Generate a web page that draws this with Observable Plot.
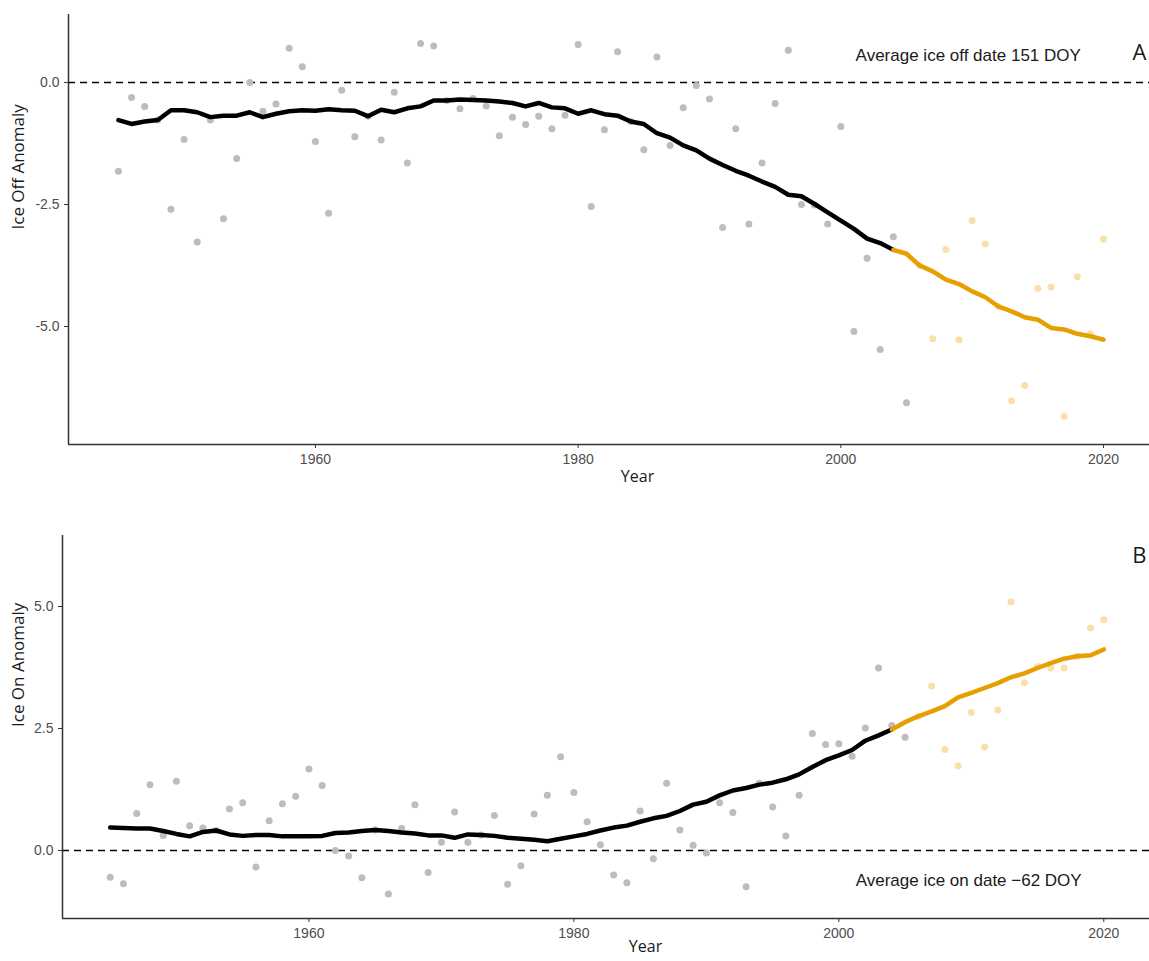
<!DOCTYPE html>
<html><head><meta charset="utf-8">
<script src="https://cdn.jsdelivr.net/npm/d3@7"></script>
<script src="https://cdn.jsdelivr.net/npm/@observablehq/plot@0.6"></script>
<style>body{margin:0;background:#fff} #chart{width:1149px} #chart svg{display:block}</style>
</head><body><div id="chart"></div>
<script>
const years = [1945,1946,1947,1948,1949,1950,1951,1952,1953,1954,1955,1956,1957,1958,1959,
1960,1961,1962,1963,1964,1965,1966,1967,1968,1969,1970,1971,1972,1973,1974,1975,1976,1977,1978,1979,
1980,1981,1982,1983,1984,1985,1986,1987,1988,1989,1990,1991,1992,1993,1994,1995,1996,1997,1998,1999,
2000,2001,2002,2003,2004,2005,2006,2007,2008,2009,2010,2011,2012,2013,2014,2015,2016,2017,2018,2019,2020];

// Panel A: ice off anomaly (observed points and smoothed trend)
const iceOff = [-1.82,-0.31,-0.49,-0.77,-2.60,-1.17,-3.27,-0.77,-2.79,-1.56,0.00,-0.59,-0.44,0.70,0.32,
-1.21,-2.68,-0.16,-1.11,-0.69,-1.18,-0.20,-1.65,0.80,0.75,-0.37,-0.54,-0.33,-0.48,-1.09,-0.71,-0.86,-0.69,-0.95,-0.67,
0.78,-2.54,-0.97,0.63,-0.80,-1.38,0.52,-1.29,-0.52,-0.06,-0.34,-2.97,-0.95,-2.90,-1.65,-0.43,0.66,-2.50,-2.51,-2.90,
-0.90,-5.10,-3.60,-5.47,-3.16,-6.56,-3.75,-5.25,-3.42,-5.27,-2.83,-3.31,-4.59,-6.52,-6.21,-4.22,-4.19,-6.84,-3.98,-5.15,-3.21];
const iceOffTrend = [-0.77,-0.85,-0.80,-0.77,-0.57,-0.57,-0.61,-0.71,-0.68,-0.68,-0.61,-0.71,-0.64,-0.59,-0.57,
-0.58,-0.55,-0.57,-0.58,-0.69,-0.56,-0.61,-0.53,-0.49,-0.37,-0.37,-0.35,-0.36,-0.37,-0.39,-0.42,-0.49,-0.42,-0.51,-0.53,
-0.64,-0.57,-0.65,-0.68,-0.80,-0.85,-1.04,-1.13,-1.29,-1.39,-1.56,-1.69,-1.81,-1.91,-2.03,-2.14,-2.30,-2.33,-2.49,-2.66,
-2.83,-3.00,-3.20,-3.29,-3.43,-3.51,-3.75,-3.87,-4.04,-4.13,-4.28,-4.40,-4.59,-4.69,-4.81,-4.86,-5.03,-5.06,-5.15,-5.20,-5.27];

// Panel B: ice on anomaly
const iceOn = [-0.55,-0.68,0.76,1.35,0.31,1.42,0.51,0.46,0.41,0.85,0.98,-0.34,0.61,0.96,1.11,
1.67,1.33,0.00,-0.11,-0.56,0.42,-0.89,0.45,0.94,-0.45,0.17,0.79,0.17,0.32,0.72,-0.69,-0.31,0.75,1.13,1.92,
1.19,0.59,0.12,-0.50,-0.66,0.81,-0.17,1.38,0.42,0.11,-0.05,0.98,0.78,-0.74,1.38,0.89,0.30,1.13,2.40,2.17,
2.19,1.93,2.51,3.74,2.56,2.32,2.75,3.37,2.07,1.73,2.83,2.12,2.88,5.10,3.44,3.77,3.74,3.74,3.98,4.56,4.73];
const iceOnTrend = [0.47,0.46,0.45,0.45,0.40,0.34,0.29,0.38,0.41,0.33,0.30,0.32,0.32,0.29,0.29,
0.29,0.30,0.36,0.37,0.40,0.42,0.40,0.37,0.35,0.31,0.31,0.26,0.33,0.32,0.30,0.26,0.24,0.22,0.19,0.24,
0.29,0.34,0.41,0.47,0.51,0.59,0.66,0.71,0.81,0.94,1.00,1.13,1.23,1.28,1.35,1.39,1.46,1.56,1.71,1.85,
1.95,2.06,2.25,2.36,2.48,2.63,2.75,2.85,2.96,3.14,3.23,3.33,3.43,3.55,3.63,3.74,3.84,3.93,3.98,4.00,4.12];

const xTicks = [1960, 1980, 2000, 2020];
const yTicksA = [-5, -2.5, 0];
const yTicksB = [0, 2.5, 5];
const lastGrayPointYear = 2005;
const splitLineYear = 2004;

const grayDot = "#bdbdbd", orangeDot = "#fbdfa9", orangeLine = "#E69F00";
const tickFont = "'Liberation Sans', Arial, sans-serif";
const fmt = d => (d < 0 ? "-" : "") + Math.abs(d).toFixed(1);

function panel({values, trend, xDomain, yDomain, yTicks, marginLeft, marginTop, marginBottom, height,
                note, noteX, noteY, tag, tagDy, yLabel, yearDx, titleDx}) {
  const pts = years.map((year, i) => ({year, value: values[i]}));
  const tr = years.map((year, i) => ({year, value: trend[i]}));
  return Plot.plot({
    width: 1149, height, marginLeft, marginRight: 0, marginTop, marginBottom,
    style: {fontFamily: tickFont, fontSize: "14px", color: "#4d4d4d", background: "white"},
    x: {domain: xDomain},
    y: {domain: yDomain},
    marks: [
      Plot.ruleY([0], {stroke: "black", strokeWidth: 1.4, strokeDasharray: "7,5"}),
      Plot.dot(pts.filter(d => d.year <= lastGrayPointYear), {x: "year", y: "value", r: 3.5, fill: grayDot}),
      Plot.dot(pts.filter(d => d.year > lastGrayPointYear), {x: "year", y: "value", r: 3.5, fill: orangeDot}),
      Plot.line(tr.filter(d => d.year <= splitLineYear), {x: "year", y: "value", stroke: "black", strokeWidth: 4.5}),
      Plot.line(tr.filter(d => d.year >= splitLineYear), {x: "year", y: "value", stroke: orangeLine, strokeWidth: 4.5}),
      Plot.axisX({ticks: xTicks, tickFormat: d => String(d), tickSize: 4, tickPadding: 6, stroke: "#333", fill: "#4d4d4d", label: null}),
      Plot.axisY({ticks: yTicks, tickFormat: fmt, tickSize: 4, tickPadding: 5, stroke: "#333", fill: "#4d4d4d", label: null}),
      Plot.ruleY([yDomain[0]], {stroke: "#333", strokeWidth: 1.5}),
      Plot.ruleX([xDomain[0]], {stroke: "#333", strokeWidth: 1.5}),
      Plot.text([note], {x: noteX, y: noteY, text: d => d, fontSize: 17, fill: "#1a1a1a", fontFamily: tickFont}),
      Plot.text([tag], {frameAnchor: "top-right", text: d => d, dx: -3, dy: tagDy, fontSize: 22, fill: "#1a1a1a", fontFamily: "'Open Sans', sans-serif", textAnchor: "end"}),
      Plot.text(["Year"], {frameAnchor: "bottom", text: d => d, dx: yearDx, dy: titleDx, fontSize: 16, fill: "#1a1a1a", fontFamily: "'Open Sans', sans-serif"}),
      Plot.text([yLabel], {frameAnchor: "left", text: d => d, dx: 18 - marginLeft, rotate: -90, fontSize: 17, fill: "#1a1a1a", fontFamily: "'Open Sans', sans-serif"})
    ]
  });
}

const A = panel({
  values: iceOff, trend: iceOffTrend, xDomain: [1941.2, 2023.5], yDomain: [-7.418, 1.393], yTicks: yTicksA,
  marginLeft: 68, marginTop: 14, marginBottom: 46, height: 490,
  note: "Average ice off date 151 DOY", noteX: 2009.7, noteY: 0.55, tag: "A", tagDy: 30,
  yLabel: "Ice Off Anomaly", yearDx: 28.5, titleDx: 37
});
const B = panel({
  values: iceOn, trend: iceOnTrend, xDomain: [1941.4, 2023.45], yDomain: [-1.393, 6.455], yTicks: yTicksB,
  marginLeft: 62, marginTop: 45, marginBottom: 43, height: 471,
  note: "Average ice on date \u221262 DOY", noteX: 2009.8, noteY: -0.61, tag: "B", tagDy: 12,
  yLabel: "Ice On Anomaly", yearDx: 39.5, titleDx: 33
});
document.getElementById("chart").append(A, B);
</script>
</body></html>
